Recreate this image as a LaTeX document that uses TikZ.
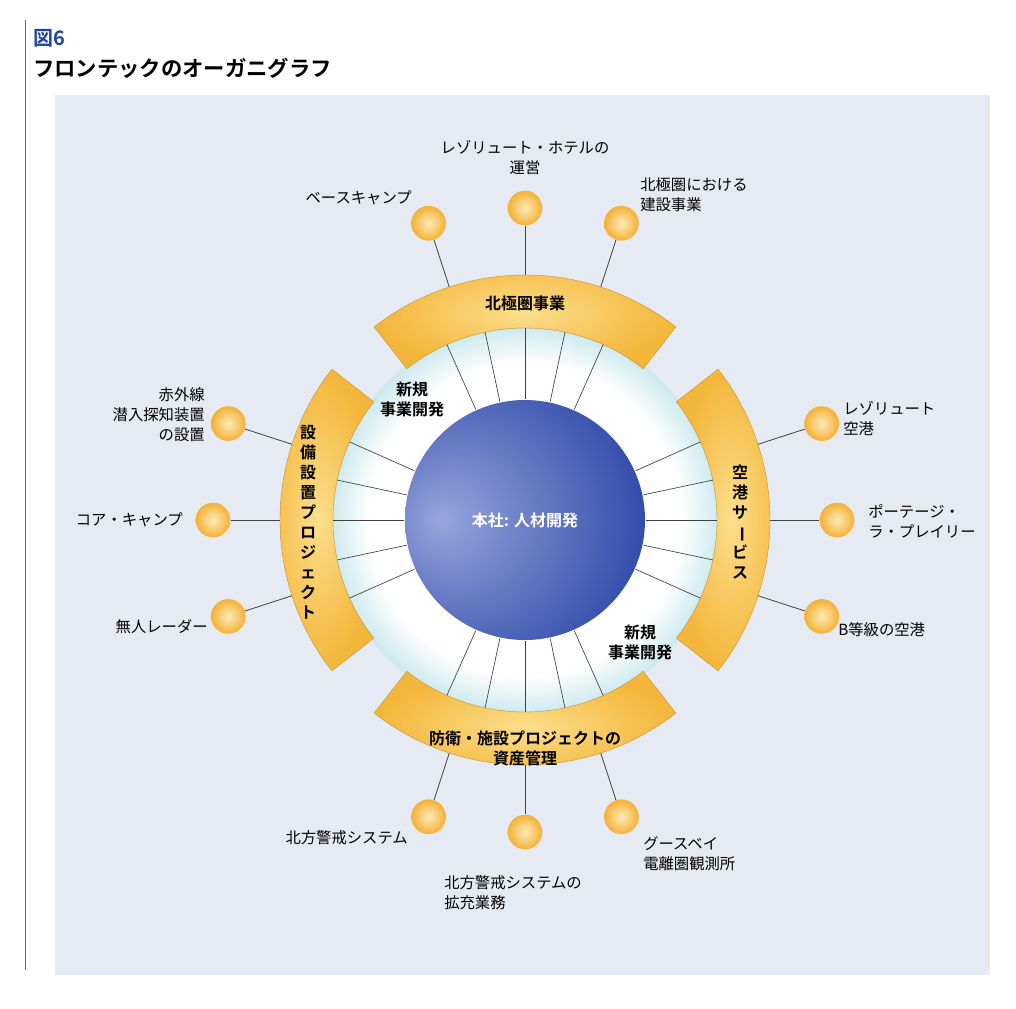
\documentclass[tikz,border=0pt]{standalone}
\usepackage{fontspec}
\usetikzlibrary{calc}
\setmainfont{Noto Sans CJK JP}
\newfontfamily\jpb{Noto Sans CJK JP Bold}
\definecolor{bgc}{RGB}{230,235,243}
\definecolor{bandc}{RGB}{244,182,58}
\definecolor{bandl}{RGB}{252,222,140}
\definecolor{tealc}{RGB}{70,175,195}
\definecolor{bluec}{RGB}{50,75,170}
\definecolor{bluel}{RGB}{150,165,220}
\definecolor{titleb}{RGB}{30,70,160}
\pgfdeclareradialshading{ringsh}{\pgfpoint{0bp}{0bp}}{color(0bp)=(white); color(20bp)=(white); color(28bp)=(tealc!45!white); color(34bp)=(tealc); color(50bp)=(tealc)}
\pgfdeclareradialshading{coresh}{\pgfpoint{-18bp}{0bp}}{color(0bp)=(bluel); color(35bp)=(bluec); color(70bp)=(bluec!85!black)}
\tikzset{
 lbl/.style={font=\fontsize{11.5}{15}\selectfont, inner sep=0pt, align=left},
 bandtxt/.style={font=\jpb\fontsize{12}{15}\selectfont, inner sep=0pt, align=center},
 ball/.style={circle, minimum size=26pt, inner sep=0pt, shading=radial, inner color=bandl!60!white, outer color=bandc!90!orange},
 conn/.style={draw=black!75, line width=0.6pt},
 band/.style={draw=bandc!80!black, line width=0.3pt},
}
\begin{document}
\begin{tikzpicture}[x=0.75pt,y=-0.75pt]
\useasboundingbox (0,0) rectangle (1016,1008);
\fill[white] (0,0) rectangle (1016,1008);
\fill[bgc] (55,95) rectangle (990,975);
\draw[black!60, line width=0.5pt] (25,20) -- (25,970);
\node[anchor=west, inner sep=0pt, font=\jpb\fontsize{15}{18}\selectfont, text=titleb] (t1) at (33,38) {図6};
\node[anchor=west, inner sep=0pt, font=\jpb\fontsize{16}{20}\selectfont] (t2) at (33,68) {フロンテックのオーガニグラフ};
\coordinate (c) at (525,520);
% cyan disc
\path[shading=ringsh] (c) circle [radius=195*0.75pt];
% bands
\foreach \s/\e in {-128/-52, 142/218, -38/38, 52/128}{
  \path[band, shading=radial, inner color=bandl, outer color=bandc]
    ($(c)+(\s:192)$) arc [start angle=\s, end angle=\e, radius=192]
    -- ($(c)+(\e:245)$) arc [start angle=\e, end angle=\s, radius=245] -- cycle;
}
% core
\node[circle, minimum size=240*0.75pt, inner sep=0pt, shading=coresh] (core) at (c) {};
\node[font=\jpb\fontsize{12}{15}\selectfont, text=white] (coretxt) at (525,520) {本社: 人材開発};
% inner spokes
\foreach \m in {-90,180,0,90}{
  \foreach \o in {-24,-12,0,12,24}{
    \draw[conn, line width=0.5pt] ($(c)+(\m+\o:121)$) -- ($(c)+(\m+\o:192)$);
  }
}
% band texts
\node[bandtxt] (bt) at (525,303) {北極圏事業};
\node[bandtxt] (bb) at (525,748) {防衛・施設プロジェクトの\\資産管理};
\node[bandtxt, align=center] (bl) at (308,522) {設\\備\\設\\置\\プ\\ロ\\ジ\\ェ\\ク\\ト};
\node[bandtxt, align=center] (br) at (740,522) {空\\港\\サ\\\rotatebox[origin=c]{-90}{ー}\\ビ\\ス};
\node[bandtxt] (n1) at (412,400) {新規\\事業開発};
\node[bandtxt] (n2) at (640,643) {新規\\事業開発};
% outer balls
\foreach \n/\a in {ta/-108, tb/-90, tc/-72, la/-162, lb/180, lc/162, ra/-18, rb/0, rc/18, ba/108, bbb/90, bc/72}{
  \node[ball] (\n) at ($(c)+(\a:312)$) {};
  \coordinate (e\n) at ($(c)+(\a:245)$);
  \draw[conn] (\n) -- (e\n);
}
% labels
\node[lbl, anchor=east] (L1) at (412,198) {ベースキャンプ};
\node[lbl, align=center] (L2) at (525,158) {レゾリュート・ホテルの\\運営};
\node[lbl, anchor=west] (L3) at (640,195) {北極圏における\\建設事業};
\node[lbl, anchor=east, align=right] (L4) at (205,415) {赤外線\\潜入探知装置\\の設置};
\node[lbl, anchor=east] (L5) at (183,520) {コア・キャンプ};
\node[lbl, anchor=east] (L6) at (208,627) {無人レーダー};
\node[lbl, anchor=west] (L7) at (843,419) {レゾリュート\\空港};
\node[lbl, anchor=west] (L8) at (868,521) {ポーテージ・\\ラ・プレイリー};
\node[lbl, anchor=west] (L9) at (838,630) {B等級の空港};
\node[lbl, anchor=east] (L10) at (408,838) {北方警戒システム};
\node[lbl, anchor=west] (L11) at (444,893) {北方警戒システムの\\拡充業務};
\node[lbl, anchor=west] (L12) at (643,854) {グースベイ\\電離圏観測所};
\end{tikzpicture}
\end{document}
